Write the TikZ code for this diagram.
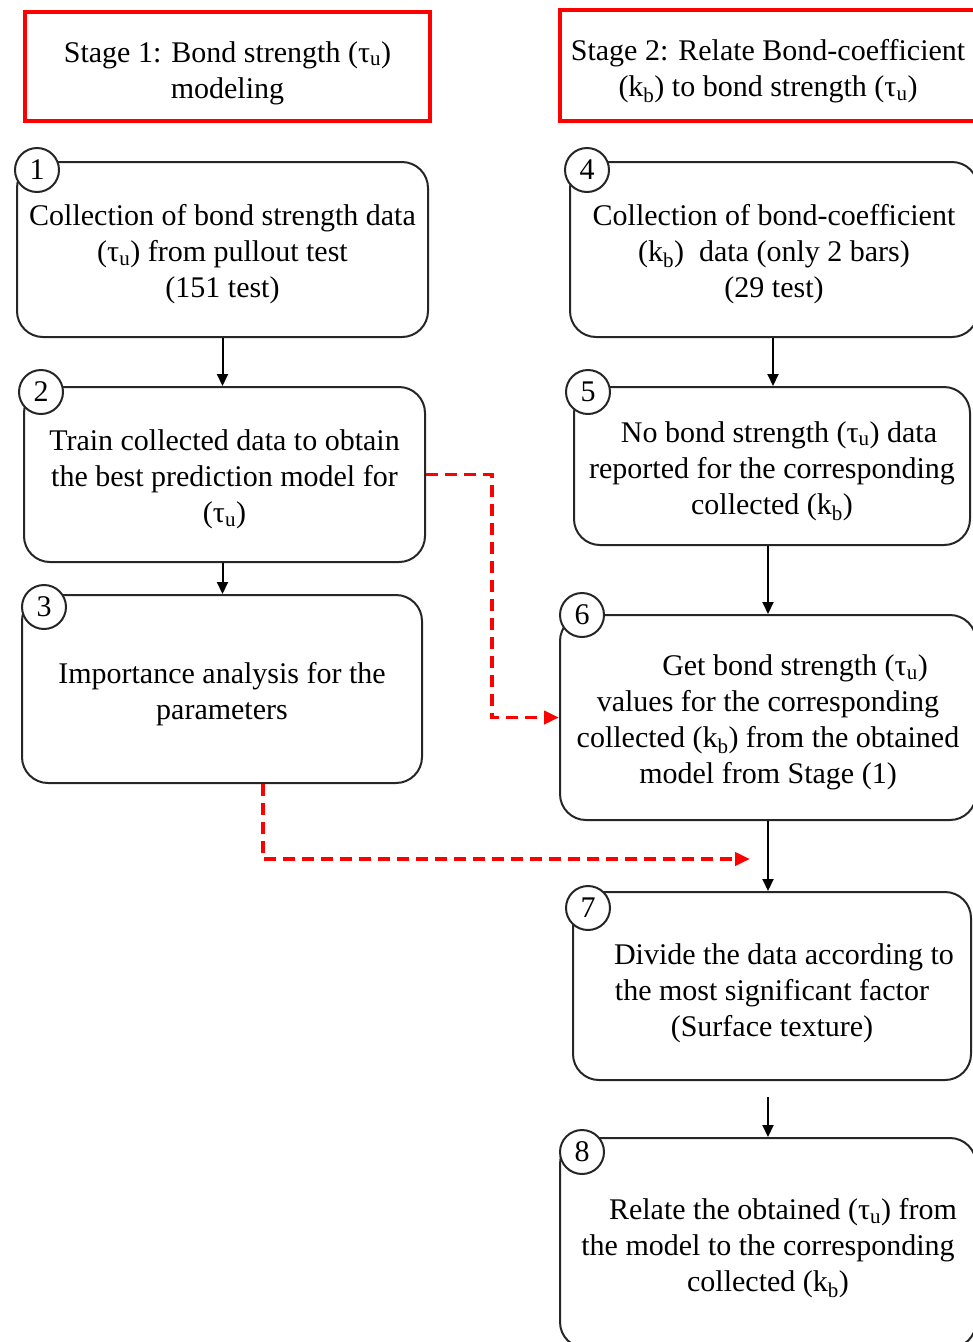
\documentclass[tikz,border=0pt]{standalone}
\usepackage{fontspec}
\setmainfont{Liberation Serif}
\usetikzlibrary{arrows.meta}
\newcommand\tu{(τ\textsubscript{u})}
\newcommand\kb{(k\textsubscript{b})}
\tikzset{
  stagebox/.style={draw=red, line width=3.5pt, minimum width=#1, inner sep=0pt},
  procbox/.style={draw=black!85, line width=2pt, rounded corners=26pt, inner sep=0pt},
  numcirc/.style={circle, draw=black!85, line width=2pt, fill=white, minimum size=44pt, inner sep=0pt, font=\fontsize{30}{30}\selectfont},
  txt/.style={align=center, font=\fontsize{30}{36}\selectfont, yshift=-5pt},
  flow/.style={draw=black, line width=2pt, -{Triangle[length=12pt,width=11pt]}},
  dflow/.style={draw=red, line width=3.8pt, dash pattern=on 12pt off 7pt, -{Triangle[length=15pt,width=13pt]}}
}
\begin{document}
\begin{tikzpicture}[x=1pt,y=-1pt]
\useasboundingbox (0,0) rectangle (973,1342);
\clip (0,0) rectangle (973,1342);
% stage boxes
\node[stagebox=405pt, minimum height=109pt] (s1) at (227.5,66.5) {};
\node[txt] (s1t) at (227.5,68) {Stage 1: Bond strength \tu\\modeling};
\node[stagebox=416pt, minimum height=111pt] (s2) at (768,65.5) {};
\node[txt] (s2t) at (768,66) {Stage 2: Relate Bond-coefficient\\\kb{} to bond strength \tu};
% process boxes
\node[procbox, minimum width=411pt, minimum height=175pt] (b1) at (222.5,249.5) {};
\node[txt] (t1) at (222.5,249.5) {Collection of bond strength data\\\tu{} from pullout test\\(151 test)};
\node[procbox, minimum width=401pt, minimum height=175pt] (b2) at (224.5,474.5) {};
\node[txt] (t2) at (224.5,474.5) {Train collected data to obtain\\the best prediction model for\\\tu};
\node[procbox, minimum width=400pt, minimum height=188pt] (b3) at (222,689) {};
\node[txt] (t3) at (222,689) {Importance analysis for the\\parameters};
\node[procbox, minimum width=408pt, minimum height=175pt] (b4) at (774,249.5) {};
\node[txt] (t4) at (774,249.5) {Collection of bond-coefficient\\\kb{}\ \ data (only 2 bars)\\(29 test)};
\node[procbox, minimum width=396pt, minimum height=158pt] (b5) at (772,466) {};
\node[txt] (t5) at (772,466) {\hspace*{14pt}No bond strength \tu{} data\\reported for the corresponding\\collected \kb};
\node[procbox, minimum width=416pt, minimum height=205pt] (b6) at (768,717.5) {};
\node[txt] (t6) at (768,717.5) {\hspace*{54pt}Get bond strength \tu\\values for the corresponding\\collected \kb{} from the obtained\\model from Stage (1)};
\node[procbox, minimum width=398pt, minimum height=188pt] (b7) at (772,986) {};
\node[txt] (t7) at (772,988) {\hspace*{24pt}Divide the data according to\\the most significant factor\\(Surface texture)};
\node[procbox, minimum width=416pt, minimum height=210pt] (b8) at (768,1243) {};
\node[txt] (t8) at (768,1243) {\hspace*{30pt}Relate the obtained \tu{} from\\the model to the corresponding\\collected \kb};
% number circles
\node[numcirc] (c1) at (37,170) {1};
\node[numcirc] (c2) at (41,392) {2};
\node[numcirc] (c3) at (44,607) {3};
\node[numcirc] (c4) at (587,170) {4};
\node[numcirc] (c5) at (588,392) {5};
\node[numcirc] (c6) at (582,615) {6};
\node[numcirc] (c7) at (588,908) {7};
\node[numcirc] (c8) at (582,1152) {8};
% connectors
\draw[flow] (b1.south) -- (b1.south |- b2.north);
\draw[flow] (b2.south -| b1.south) -- (b1.south |- b3.north);
\draw[flow] (b4.south -| 773,0) -- (773,0 |- b5.north);
\draw[flow] (b6.north |- b5.south) -- (b6.north);
\draw[flow] (b6.south) -- (b6.south |- b7.north);
\coordinate (a8) at (768,1097);
\draw[flow] (a8) -- (a8 |- b8.north);
% dashed red connectors
\coordinate (m1) at (492,600);
\draw[dflow] (b2.east) -| (m1) |- (b6.west);
\coordinate (e3) at (750,859);
\draw[dflow] ([xshift=41pt]b3.south) |- (e3);
\end{tikzpicture}
\end{document}
